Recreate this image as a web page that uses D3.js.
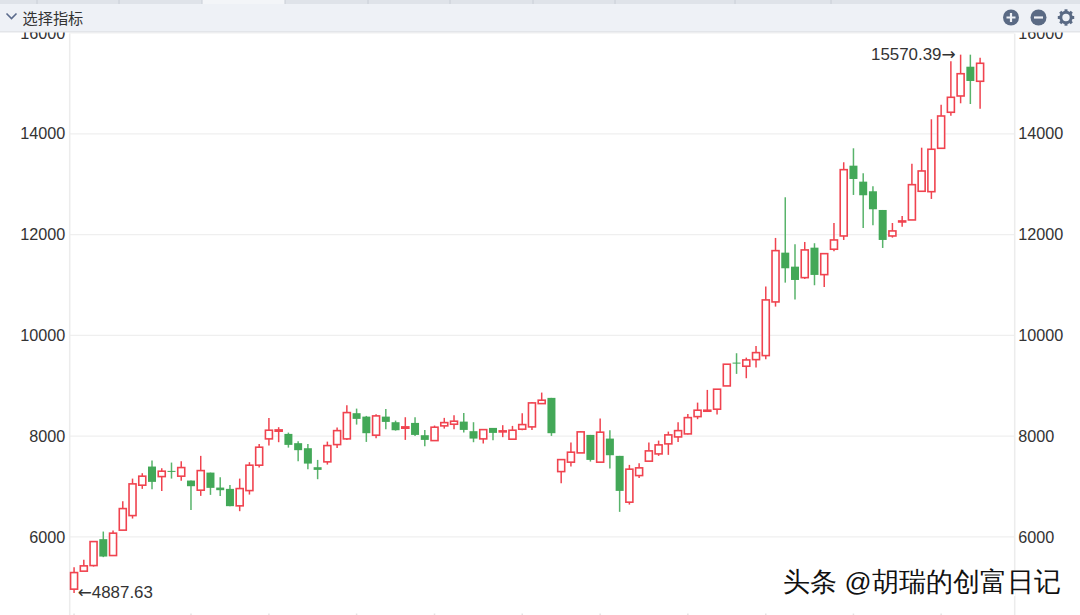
<!DOCTYPE html>
<html>
<head>
<meta charset="utf-8">
<script src="https://cdn.jsdelivr.net/npm/d3@7"></script>
<style>
html,body{margin:0;padding:0;background:#fff;overflow:hidden}
svg{display:block}
text{font-family:"Liberation Sans",Arial,sans-serif}
</style>
</head>
<body>
<div id="chart"></div>
<script>
const opens = [4963,5320,5431,5955,5630,6134,6423,7026,7396,7197,7310,7205,7118,6927,7276,6979,6953,6616,6919,7423,7945,8098,8044,7860,7760,7383,
  7489,7832,7945,8455,8387,8018,8387,8276,8157,8262,8018,7911,8203,8236,8288,8098,7945,8163,8084,7939,8137,8183,8645,8759,
  7296,7483,7667,8024,7483,7951,7608,6689,7217,7503,7647,7846,7984,8044,8387,8494,8534,8996,9459,9387,9518,9598,10663,11641,11363,11145,11740,11205,11709,11972,
  13367,13050,12859,12488,11972,12250,12290,12859,12851,13712,14427,14750,15331,15042];
const closes = [5292,5425,5907,5610,6074,6562,7052,7205,7092,7304,7290,7376,7006,7316,6973,6927,6610,6959,7423,7780,8117,8123,7826,7721,7455,7330,
  7812,8109,8467,8342,8058,8401,8282,8117,8183,8024,7925,8177,8268,8296,8123,7951,8129,8064,8104,8117,8229,8659,8713,8058,
  7534,7681,8084,7528,8078,7621,6913,7344,7370,7707,7826,8024,8109,8367,8514,8514,8931,9427,9439,9512,9657,10703,11681,11331,11099,11695,11199,11621,11893,13288,
  13103,12780,12502,11893,12072,12270,12990,13262,13693,14353,14724,15192,15048,15399];
const highs = [5399,5544,5907,6106,6126,6709,7157,7264,7514,7363,7475,7503,7118,7608,7276,7185,7032,7157,7483,7846,8362,8177,8070,7899,7846,7528,
  7891,8169,8614,8546,8401,8435,8540,8308,8375,8375,8123,8210,8362,8415,8461,8276,8129,8163,8217,8203,8455,8679,8864,8759,
  7534,7872,8098,8024,8348,8117,7608,7429,7463,7872,7911,8090,8276,8441,8665,8917,8931,9427,9645,9558,9790,10967,11933,12740,11808,11853,11828,11621,12230,13435,
  13712,13216,12958,12488,12230,12369,13407,13724,14288,14577,15438,15570.39,15570,15510];
const lows = [4887.63,5320,5411,5598,5630,6134,6364,6953,6947,6913,7157,7112,6536,6814,6834,6814,6610,6510,6840,7376,7812,7879,7772,7503,7344,7145,
  7435,7766,7925,8229,7885,7959,8137,8109,7925,8004,7800,7911,8149,8137,8070,7879,7852,7919,7979,7939,8117,8123,8639,8004,
  7066,7395,7667,7495,7483,7356,6497,6641,7171,7503,7608,7628,7885,8030,8336,8494,8427,8996,9235,9149,9360,9526,10570,11046,10709,11119,10994,10961,11669,11893,
  12786,12131,12185,11734,11939,12157,12290,12859,12707,13712,14359,14605,14591,14498];

const priceTicks = [6000,8000,10000,12000,14000,16000];
const dateTicks = [0,12,20,29,37,46,54,63,71,80,89];
const lowMark = {index:0, value:4887.63};
const highMark = {index:91, value:15570.39};
const menuLabel = "选择指标";
const watermark = "头条 @胡瑞的创富日记";
const tabEdges = [37,119,202,285,368,450,533,615,735,831];

const width = 1080, height = 615;
const left = 69.2, right = 1014.2;
const red = "#f0434f", green = "#43a858";

const svg = d3.select("#chart").append("svg")
  .attr("width", width)
  .attr("height", height);

// 3 empty slots keep the last candle away from the right axis
const x = d3.scaleBand().domain(d3.range(opens.length + 3)).range([left, right]);
const y = d3.scaleLinear().domain([4450,16000]).range([615,33]);
const cx = i => x(i) + x.bandwidth()/2;

svg.append("g").attr("class","grid")
  .selectAll("line").data(priceTicks).join("line")
  .attr("x1", left).attr("x2", right)
  .attr("y1", d => y(d)).attr("y2", d => y(d))
  .attr("stroke", "#efefef")
  .attr("stroke-width", 1.2);

function styleAxis(g){
  g.select(".domain").attr("stroke","#ececec").attr("stroke-width",1.5);
  g.selectAll(".tick line").remove();
  g.selectAll(".tick text").attr("fill","#333").style("font-size","16.2px");
}
svg.append("g").attr("transform",`translate(${left},0)`)
  .call(d3.axisLeft(y).tickValues(priceTicks).tickFormat(d3.format("d")).tickSize(0).tickPadding(4))
  .call(styleAxis);
svg.append("g").attr("transform",`translate(${right},0)`)
  .call(d3.axisRight(y).tickValues(priceTicks).tickFormat(d3.format("d")).tickSize(0).tickPadding(4))
  .call(styleAxis);

svg.append("g").selectAll("line").data(dateTicks).join("line")
  .attr("x1", d => cx(d)).attr("x2", d => cx(d))
  .attr("y1", 613.5).attr("y2", 615)
  .attr("stroke", "#e4e4e4")
  .attr("stroke-width", 1.5);

const candles = svg.append("g").selectAll("g")
  .data(opens.map((o,i) => ({i, o, c:closes[i], h:highs[i], l:lows[i]})))
  .join("g");

candles.append("line")
  .attr("x1", d => cx(d.i)).attr("x2", d => cx(d.i))
  .attr("y1", d => y(d.h)).attr("y2", d => y(d.l))
  .attr("stroke", d => d.c >= d.o ? red : "#58b36b")
  .attr("stroke-width", 1.5);

candles.append("rect")
  .attr("x", d => cx(d.i) - (d.c >= d.o ? 3.5 : 4))
  .attr("width", d => d.c >= d.o ? 7 : 8)
  .attr("y", d => y(Math.max(d.o,d.c)))
  .attr("height", d => Math.max(1, Math.abs(y(d.o)-y(d.c))))
  .attr("fill", d => d.c >= d.o ? "#fff" : green)
  .attr("stroke", d => d.c >= d.o ? red : "none")
  .attr("stroke-width", 1.6);

// arrows come from DejaVu, Liberation's are too short
const arrowFont = '"DejaVu Sans"';
const lowText = svg.append("text")
  .attr("x", cx(lowMark.index)+3.6).attr("y", y(lowMark.value)+4.7)
  .attr("fill","#333").style("font-size","16.9px");
lowText.append("tspan").style("font-family",arrowFont).text("←");
lowText.append("tspan").text(lowMark.value);
const highText = svg.append("text")
  .attr("x", cx(highMark.index)-5).attr("y", y(highMark.value)+5.5)
  .attr("text-anchor","end")
  .attr("fill","#333").style("font-size","16.9px");
highText.append("tspan").text(highMark.value);
highText.append("tspan").style("font-family",arrowFont).text("→");

// toolbar on top of the chart
const bar = svg.append("g");
bar.append("rect").attr("width",width).attr("height",4).attr("fill","#dfe3e9");
bar.append("rect").attr("x",202).attr("width",83).attr("height",4).attr("fill","#f3f5f8");
bar.selectAll("line.tab").data(tabEdges).join("line").attr("class","tab")
  .attr("x1",d=>d).attr("x2",d=>d).attr("y1",0).attr("y2",4).attr("stroke","#c9ced6");
bar.append("rect").attr("y",4).attr("width",width).attr("height",27).attr("fill","#eef1f6");
bar.append("rect").attr("y",31).attr("width",width).attr("height",1.5).attr("fill","#e3e5e9");
bar.append("path").attr("d","M6.5 13.5L11.5 18.5L16.5 13.5")
  .attr("fill","none").attr("stroke","#5b6b8c").attr("stroke-width",1.6);
bar.append("text").attr("x",22.5).attr("y",23.5)
  .style("font-family",'"Noto Sans CJK SC"').style("font-size","15.2px").attr("fill","#333")
  .text(menuLabel);

const iconColor = "#5a6a84";
bar.append("circle").attr("cx",1011).attr("cy",17.5).attr("r",8).attr("fill",iconColor);
bar.append("path").attr("d","M1006.5 17.5H1015.5M1011 13V22").attr("stroke","#eef1f6").attr("stroke-width",2.2);
bar.append("circle").attr("cx",1038.5).attr("cy",17.5).attr("r",8).attr("fill",iconColor);
bar.append("path").attr("d","M1034 17.5H1043").attr("stroke","#eef1f6").attr("stroke-width",2.2);
const gear = bar.append("g").attr("transform","translate(1066,17.5)");
gear.append("circle").attr("r",5.2).attr("fill","none").attr("stroke",iconColor).attr("stroke-width",3);
gear.selectAll("rect").data(d3.range(8)).join("rect")
  .attr("x",-1.5).attr("y",-8.2).attr("width",3).attr("height",3)
  .attr("fill",iconColor).attr("transform",d=>`rotate(${d*45})`);

// watermark: white offset copy under the dark one
const mark = svg.append("g").style("font-family",'"Noto Sans CJK SC"').style("font-size","26.7px");
mark.append("text").attr("x",784).attr("y",592).attr("fill","#fff").attr("stroke","#fff").attr("stroke-width",1.6).text(watermark);
mark.append("text").attr("x",783).attr("y",591).attr("fill","#111").style("font-weight",300).text(watermark);
</script>
</body>
</html>
